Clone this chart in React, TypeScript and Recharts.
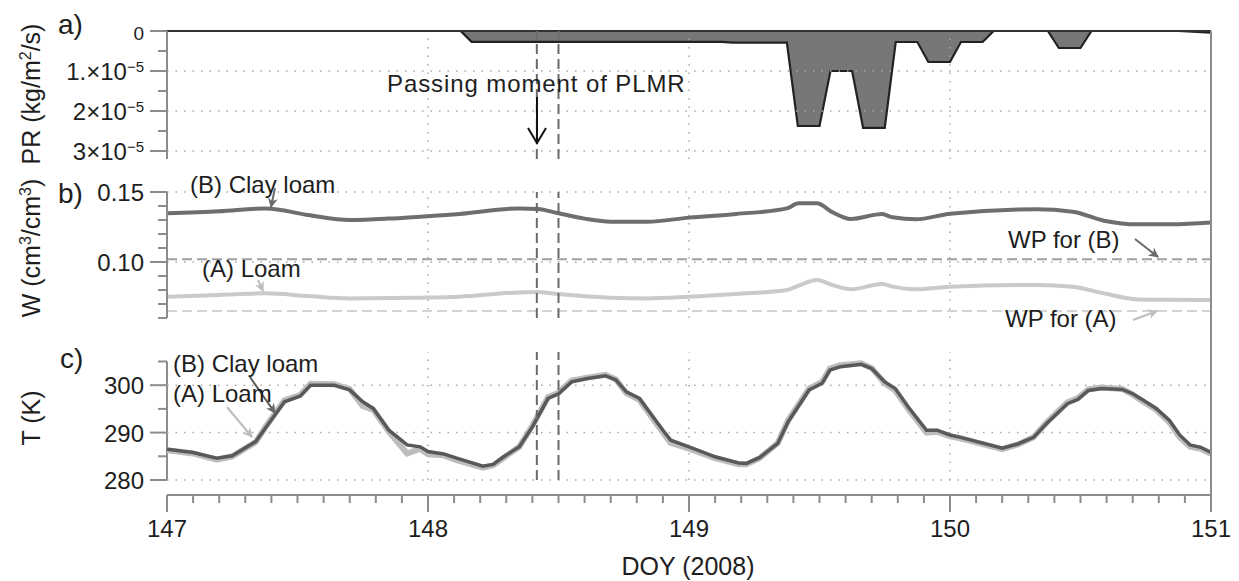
import React from 'react';
import { ComposedChart, Area, Line, XAxis, YAxis, ReferenceLine } from 'recharts';

const FONT = '"Liberation Sans", Arial, Helvetica, sans-serif';
const TEXT = '#1e1e1e';
const AXIS = '#8c8c8c';
const GRID = '#a8a8a8';

// ---------- data ----------
const xDomain: [number, number] = [147, 151];
const dayTicks = [147, 148, 149, 150, 151];
const gridDays = [148, 149, 150];
const plmrDays = [148.417, 148.5];
const minorDayTicks = Array.from({ length: 41 }, (_, i) => +(147 + i * 0.1).toFixed(1));

// a) precipitation rate (kg/m2/s)
const prDoy = [147, 148.125, 148.167, 149.125, 149.167, 149.375, 149.417, 149.5, 149.542, 149.625, 149.667, 149.75, 149.792, 149.875, 149.917, 150.0, 150.042, 150.125, 150.167, 150.375, 150.417, 150.5, 150.542, 150.875, 151];
const prValue = [0, 0, 2.7e-6, 2.7e-6, 2.9e-6, 2.9e-6, 2.375e-5, 2.375e-5, 1.0e-5, 1.0e-5, 2.42e-5, 2.42e-5, 2.75e-6, 2.75e-6, 7.75e-6, 7.75e-6, 2.75e-6, 2.75e-6, 0, 0, 4.25e-6, 4.25e-6, 0, 0, 4e-7];
const prTicks = [0, 5e-6, 1e-5, 1.5e-5, 2e-5, 2.5e-5, 3e-5];
const prGrid = [1e-5, 2e-5, 3e-5];

// b) soil water (cm3/cm3)
const wDoy = [147.0, 147.2, 147.38, 147.54, 147.7, 147.85, 147.97, 148.12, 148.35, 148.42, 148.5, 148.6, 148.7, 148.84, 149.0, 149.18, 149.375, 149.42, 149.49, 149.55, 149.62, 149.74, 149.78, 149.87, 150.0, 150.33, 150.47, 150.59, 150.72, 150.85, 151.0];
const wClayLoam = [0.1348, 0.1362, 0.1383, 0.1336, 0.130, 0.131, 0.1324, 0.1343, 0.1383, 0.1379, 0.1348, 0.131, 0.1288, 0.1288, 0.1317, 0.1343, 0.1383, 0.1419, 0.1419, 0.1355, 0.1307, 0.1342, 0.1319, 0.1305, 0.1345, 0.1376, 0.1359, 0.1295, 0.1269, 0.127, 0.1283];
const wLoam = [0.0752, 0.0765, 0.0776, 0.0757, 0.074, 0.0742, 0.0745, 0.0752, 0.0783, 0.0786, 0.0771, 0.0755, 0.0745, 0.074, 0.0752, 0.0772, 0.08, 0.0831, 0.0871, 0.0835, 0.0805, 0.0843, 0.0824, 0.0805, 0.0824, 0.0836, 0.0824, 0.0776, 0.0733, 0.073, 0.0729];
const wpClayLoam = 0.102;
const wpLoam = 0.065;
const wTicks = [0.06, 0.07, 0.08, 0.09, 0.1, 0.11, 0.12, 0.13, 0.14, 0.15];
const wGrid = [0.1, 0.15];

// c) soil temperature (K)
const tDoy = [147.0, 147.1, 147.19, 147.25, 147.34, 147.38, 147.45, 147.51, 147.55, 147.64, 147.7, 147.75, 147.79, 147.85, 147.92, 147.97, 148.0, 148.06, 148.11, 148.21, 148.25, 148.29, 148.35, 148.4, 148.46, 148.5, 148.55, 148.61, 148.68, 148.72, 148.76, 148.81, 148.9, 148.93, 149.0, 149.1, 149.19, 149.22, 149.27, 149.34, 149.38, 149.46, 149.51, 149.54, 149.58, 149.66, 149.7, 149.75, 149.79, 149.84, 149.91, 149.95, 150.0, 150.04, 150.2, 150.26, 150.32, 150.37, 150.45, 150.49, 150.53, 150.58, 150.66, 150.7, 150.75, 150.79, 150.84, 150.88, 150.92, 150.96, 151.0];
const tClayLoam = [286.5, 285.8, 284.6, 285.1, 288.1, 291.2, 296.5, 297.7, 300.0, 300.0, 299.0, 296.5, 295.1, 290.5, 287.4, 287.0, 286.0, 285.5, 284.6, 282.9, 283.3, 284.9, 287.0, 291.2, 297.2, 298.2, 300.7, 301.4, 302.0, 301.1, 298.6, 297.2, 290.5, 288.4, 287.0, 284.9, 283.6, 283.5, 284.7, 287.7, 292.3, 299.0, 300.4, 303.2, 303.9, 304.4, 303.5, 300.7, 299.3, 295.4, 290.5, 290.5, 289.5, 289.0, 286.7, 287.6, 289.0, 291.9, 296.1, 297.0, 298.9, 299.3, 299.1, 298.2, 296.5, 295.1, 292.6, 289.5, 287.4, 286.9, 285.8];
const tLoam = [286.3, 285.6, 284.3, 285.0, 288.0, 291.4, 296.8, 297.9, 300.3, 300.2, 299.2, 295.6, 294.8, 290.2, 285.6, 286.6, 285.4, 285.2, 284.2, 282.6, 283.1, 284.7, 287.0, 291.5, 297.5, 298.4, 301.0, 301.6, 302.2, 301.2, 298.3, 296.9, 290.0, 287.8, 286.6, 284.6, 283.3, 283.3, 284.6, 287.8, 292.6, 299.3, 300.7, 303.5, 304.2, 304.6, 303.6, 300.4, 298.9, 295.0, 290.0, 290.2, 289.2, 288.8, 286.5, 287.5, 289.0, 292.1, 296.4, 297.3, 299.1, 299.5, 299.2, 298.0, 296.2, 294.8, 292.2, 289.0, 287.0, 286.6, 285.5];
const tTicks = [280, 285, 290, 295, 300, 305];
const tGrid = [280, 290, 300];

const prData = prDoy.map((d, i) => ({ doy: d, pr: prValue[i] }));
const wData = wDoy.map((d, i) => ({ doy: d, clay: wClayLoam[i], loam: wLoam[i] }));
const tData = tDoy.map((d, i) => ({ doy: d, clay: tClayLoam[i], loam: tLoam[i] }));

// ---------- ticks ----------
const sup = (base: string, exp: string) => (
  <>
    {base}
    <tspan dy={-8} fontSize={15}>{exp}</tspan>
  </>
);

const makeYTick = (isMajor: (v: number) => boolean, fmt: (v: number) => React.ReactNode, size = 24) => (props: any) => {
  const { x, y, payload } = props;
  const v = payload.value;
  const major = isMajor(v);
  return (
    <g>
      <line x1={x - (major ? 17 : 9)} x2={x} y1={y} y2={y} stroke={AXIS} strokeWidth={2} />
      {major && (
        <text x={x - 23} y={y + 9} textAnchor="end" fontSize={size} fill={TEXT} fontFamily={FONT}>
          {fmt(v)}
        </text>
      )}
    </g>
  );
};

const prTick = makeYTick(
  (v) => Math.round(v * 1e6) % 10 === 0,
  (v) => {
    const n = Math.round(v * 1e5);
    if (n === 0) return <tspan fontSize={19}>0</tspan>;
    if (n === 1) return sup('1.×10', '−5');
    return sup(`${n}×10`, '−5');
  }
);
const wTick = makeYTick((v) => Math.round(v * 1000) % 50 === 0, (v) => v.toFixed(2));
const tTick = makeYTick((v) => Math.round(v) % 10 === 0, (v) => String(Math.round(v)));

const XTick = (props: any) => {
  const { x, y, payload } = props;
  const v = payload.value;
  const major = dayTicks.some((d) => Math.abs(v - d) < 1e-6);
  return (
    <g>
      <line x1={x} x2={x} y1={y} y2={y + (major ? 17 : 8)} stroke={AXIS} strokeWidth={2} />
      {major && (
        <text x={x} y={y + 42} textAnchor="middle" fontSize={24} fill={TEXT} fontFamily={FONT}>
          {Math.round(v)}
        </text>
      )}
    </g>
  );
};

const W = 1239;
const dotted = { stroke: GRID, strokeWidth: 1.5, strokeDasharray: '1.5 7' };
const plmrStyle = { stroke: '#6a6a6a', strokeWidth: 2, strokeDasharray: '10 5' };

const gridLines = (ys: number[]) => [
  ...gridDays.map((d) => <ReferenceLine key={'gx' + d} x={d} {...dotted} ifOverflow="visible" />),
  ...ys.map((v) => <ReferenceLine key={'gy' + v} y={v} {...dotted} ifOverflow="visible" />),
];
const plmrLines = () => plmrDays.map((d) => <ReferenceLine key={'p' + d} x={d} {...plmrStyle} />);

const hiddenX = <XAxis dataKey="doy" type="number" domain={xDomain} hide allowDataOverflow />;

export default function App() {
  const abs = (top: number): React.CSSProperties => ({ position: 'absolute', left: 0, top });
  return (
    <div style={{ position: 'absolute', left: 0, top: 0, width: W, height: 581, background: '#fff', fontFamily: FONT }}>
      {/* a) */}
      <div style={abs(0)}>
        <ComposedChart width={W} height={180} data={prData} margin={{ top: 31, right: 28, bottom: 21, left: 0 }}>
          {hiddenX}
          <YAxis
            type="number"
            domain={[0, 3.2e-5]}
            reversed
            ticks={prTicks}
            interval={0}
            width={167}
            tickSize={0}
            tickMargin={0}
            tick={prTick}
            axisLine={{ stroke: AXIS, strokeWidth: 2 }}
            allowDataOverflow
          />
          {gridLines(prGrid)}
          <Area
            type="linear"
            dataKey="pr"
            baseValue={0}
            stroke="#222"
            strokeWidth={2.2}
            fill="#777"
            fillOpacity={1}
            isAnimationActive={false}
            dot={false}
            activeDot={false}
          />
          <ReferenceLine y={0} stroke="#333" strokeWidth={2} />
          {plmrLines()}
        </ComposedChart>
      </div>

      {/* b) */}
      <div style={abs(170)}>
        <ComposedChart width={W} height={170} data={wData} margin={{ top: 22, right: 28, bottom: 22, left: 0 }}>
          {hiddenX}
          <YAxis
            type="number"
            domain={[0.06, 0.15]}
            ticks={wTicks}
            interval={0}
            width={167}
            tickSize={0}
            tickMargin={0}
            tick={wTick}
            axisLine={{ stroke: AXIS, strokeWidth: 2 }}
            allowDataOverflow
          />
          {gridLines(wGrid)}
          <ReferenceLine y={wpClayLoam} stroke="#a0a0a0" strokeWidth={2} strokeDasharray="10 5" />
          <ReferenceLine y={wpLoam} stroke="#d4d4d4" strokeWidth={2} strokeDasharray="10 5" />
          <Line type="monotone" dataKey="loam" stroke="#cacaca" strokeWidth={4} dot={false} activeDot={false} isAnimationActive={false} />
          <Line type="monotone" dataKey="clay" stroke="#6e6e6e" strokeWidth={4} dot={false} activeDot={false} isAnimationActive={false} />
          {plmrLines()}
        </ComposedChart>
      </div>

      {/* c) */}
      <div style={abs(330)}>
        <ComposedChart width={W} height={175} data={tData} margin={{ top: 22, right: 28, bottom: 25, left: 0 }}>
          {hiddenX}
          <YAxis
            type="number"
            domain={[280, 307]}
            ticks={tTicks}
            interval={0}
            width={167}
            tickSize={0}
            tickMargin={0}
            tick={tTick}
            axisLine={false}
            allowDataOverflow
          />
          <ReferenceLine segment={[{ x: 147, y: 280 }, { x: 147, y: 305 }]} stroke={AXIS} strokeWidth={2} ifOverflow="visible" />
          {gridLines(tGrid)}
          <Line type="linear" dataKey="loam" stroke="#bdbdbd" strokeWidth={6} dot={false} activeDot={false} isAnimationActive={false} />
          <Line type="linear" dataKey="clay" stroke="#595959" strokeWidth={3.5} dot={false} activeDot={false} isAnimationActive={false} />
          {plmrLines()}
        </ComposedChart>
      </div>

      {/* x axis */}
      <div style={abs(480)}>
        <ComposedChart width={W} height={101} data={tData} margin={{ top: 5, right: 28, bottom: 0, left: 167 }}>
          <XAxis
            dataKey="doy"
            type="number"
            domain={xDomain}
            ticks={minorDayTicks}
            interval={0}
            height={86}
            tickSize={0}
            tickMargin={0}
            tick={XTick}
            axisLine={{ stroke: AXIS, strokeWidth: 2 }}
            allowDataOverflow
          />
          <YAxis hide domain={[280, 307]} />
          <Line dataKey="clay" stroke="none" dot={false} activeDot={false} isAnimationActive={false} />
        </ComposedChart>
      </div>

      {/* annotations overlay */}
      <svg width={W} height={581} style={{ position: 'absolute', left: 0, top: 0, pointerEvents: 'none' }} fontFamily={FONT}>
        <defs>
          <marker id="hDark" viewBox="0 0 10 10" refX="9" refY="5" markerWidth="5" markerHeight="5" orient="auto">
            <path d="M0,0 L10,5 L0,10 L3,5 z" fill="#6a6a6a" />
          </marker>
          <marker id="hLight" viewBox="0 0 10 10" refX="9" refY="5" markerWidth="5" markerHeight="5" orient="auto">
            <path d="M0,0 L10,5 L0,10 L3,5 z" fill="#bdbdbd" />
          </marker>
        </defs>
        {/* frame right */}
        <line x1={1211} x2={1211} y1={31} y2={495} stroke={AXIS} strokeWidth={2} />

        {/* panel labels */}
        <text x={58} y={34} fontSize={28} fill={TEXT}>a)</text>
        <text x={58} y={203} fontSize={28} fill={TEXT}>b)</text>
        <text x={60} y={368} fontSize={28} fill={TEXT}>c)</text>

        {/* axis titles */}
        <text transform="translate(40,94) rotate(-90)" textAnchor="middle" fontSize={25} fill={TEXT}>
          PR (kg/m<tspan dy={-9} fontSize={16}>2</tspan><tspan dy={9}>/s)</tspan>
        </text>
        <text transform="translate(40,248) rotate(-90)" textAnchor="middle" fontSize={25} fill={TEXT}>
          W (cm<tspan dy={-9} fontSize={16}>3</tspan><tspan dy={9}>/cm</tspan><tspan dy={-9} fontSize={16}>3</tspan><tspan dy={9}>)</tspan>
        </text>
        <text transform="translate(40,418) rotate(-90)" textAnchor="middle" fontSize={25} fill={TEXT}>T (K)</text>
        <text x={688} y={575} textAnchor="middle" fontSize={25} fill={TEXT}>DOY (2008)</text>

        {/* a) annotation */}
        <text x={387} y={92} fontSize={24} letterSpacing={0.9} fill={TEXT}>Passing moment of PLMR</text>
        <line x1={537} x2={537} y1={97} y2={142} stroke="#111" strokeWidth={2} />
        <polyline points="528,128 537,143 546,128" fill="none" stroke="#111" strokeWidth={2} />

        {/* b) annotations */}
        <text x={190} y={193} fontSize={24} fill={TEXT}>(B) Clay loam</text>
        <line x1={275} y1={188} x2={271} y2={207} stroke="#6a6a6a" strokeWidth={2} markerEnd="url(#hDark)" />
        <text x={202} y={277} fontSize={24} fill={TEXT}>(A) Loam</text>
        <line x1={258} y1={280} x2={263} y2={291} stroke="#bdbdbd" strokeWidth={2} markerEnd="url(#hLight)" />
        <text x={1008} y={248} fontSize={24} fill={TEXT}>WP for (B)</text>
        <line x1={1135} y1={239} x2={1158} y2={257} stroke="#6a6a6a" strokeWidth={2} markerEnd="url(#hDark)" />
        <text x={1005} y={327} fontSize={24} fill={TEXT}>WP for (A)</text>
        <line x1={1133} y1={320} x2={1157} y2={311} stroke="#bdbdbd" strokeWidth={2} markerEnd="url(#hLight)" />

        {/* c) annotations */}
        <text x={173} y={372} fontSize={24} fill={TEXT}>(B) Clay loam</text>
        <line x1={250} y1={377} x2={275} y2={413} stroke="#5a5a5a" strokeWidth={2} markerEnd="url(#hDark)" />
        <text x={173} y={402} fontSize={24} fill={TEXT}>(A) Loam</text>
        <line x1={227} y1={407} x2={252} y2={437} stroke="#bdbdbd" strokeWidth={2} markerEnd="url(#hLight)" />
      </svg>
    </div>
  );
}
